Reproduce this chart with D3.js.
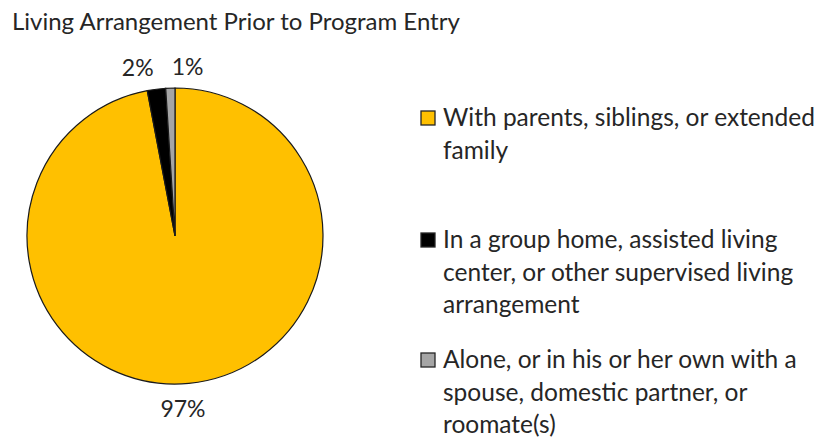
<!DOCTYPE html>
<html>
<head>
<meta charset="utf-8">
<script src="https://cdn.jsdelivr.net/npm/d3@7"></script>
<style>
  html, body { margin: 0; padding: 0; background: #fff; }
  svg { display: block; }
  text { font-family: Lato, "Open Sans", sans-serif; fill: #262626; }
</style>
</head>
<body>
<svg id="chart" width="824" height="437"></svg>
<script>
// Living arrangement shares (percent)
const categories = [
  "With parents, siblings, or extended family",
  "In a group home, assisted living center, or other supervised living arrangement",
  "Alone, or in his or her own with a spouse, domestic partner, or roomate(s)"
];
const values = [97, 2, 1];
const valueLabels = ["97%", "2%", "1%"];
// Legend entries wrapped into lines
const legendLines = [
  ["With parents, siblings, or extended", "family"],
  ["In a group home, assisted living", "center, or other supervised living", "arrangement"],
  ["Alone, or in his or her own with a", "spouse, domestic partner, or", "roomate(s)"]
];
const colors = ["#FFC000", "#000000", "#A5A5A5"];

const svg = d3.select("#chart");
const cx = 175, cy = 236, radius = 148;

svg.append("text")
  .attr("x", 12).attr("y", 30)
  .attr("font-size", 24)
  .text("Living Arrangement Prior to Program Entry");

const pie = d3.pie().value(d => d).sort(null);
const arcs = pie(values);
const arc = d3.arc().innerRadius(0).outerRadius(radius);
const labelArc = d3.arc().innerRadius(radius + 22).outerRadius(radius + 22);

const g = svg.append("g").attr("transform", `translate(${cx},${cy})`);
g.selectAll("path.slice")
  .data(arcs)
  .join("path")
  .attr("class", "slice")
  .attr("d", arc)
  .attr("fill", (d, i) => colors[i])
  .attr("stroke", "#1a1a1a")
  .attr("stroke-width", 1.2);

// small slices near the top get their labels spread apart
const nudge = [[-8, 3], [-16, 0], [18, 0]];
g.selectAll("text.pct")
  .data(arcs)
  .join("text")
  .attr("class", "pct")
  .attr("text-anchor", "middle")
  .attr("dominant-baseline", "central")
  .attr("font-size", 23)
  .attr("x", (d, i) => labelArc.centroid(d)[0] + nudge[i][0])
  .attr("y", (d, i) => labelArc.centroid(d)[1] + nudge[i][1])
  .text((d, i) => valueLabels[i]);

// legend
const legendTop = [111, 233, 353];
const legend = svg.append("g");
categories.forEach((c, i) => {
  const item = legend.append("g");
  item.append("rect")
    .attr("x", 421).attr("y", legendTop[i])
    .attr("width", 14).attr("height", 14)
    .attr("fill", colors[i])
    .attr("stroke", "#262626").attr("stroke-width", 1.3);
  item.append("text")
    .attr("font-size", 24.5)
    .selectAll("tspan")
    .data(legendLines[i])
    .join("tspan")
    .attr("x", 443)
    .attr("y", (d, j) => legendTop[i] + 15 + j * 32.5)
    .text(d => d);
});
</script>
</body>
</html>
